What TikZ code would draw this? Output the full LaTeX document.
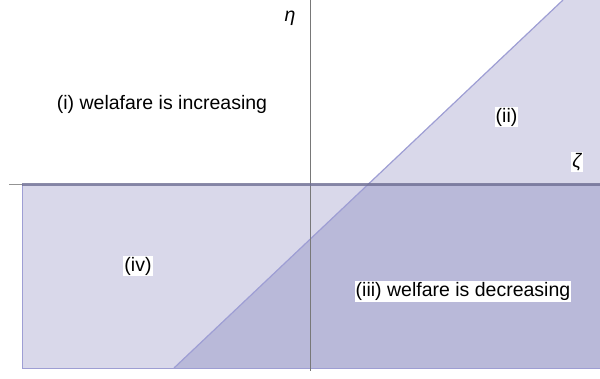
\documentclass[tikz,border=0pt]{standalone}
\usepackage{fontspec}
\setmainfont{Liberation Sans}
\usetikzlibrary{calc}
\definecolor{lightreg}{RGB}{217,216,234}
\definecolor{darkreg}{RGB}{185,185,217}
\definecolor{bordline}{RGB}{158,158,212}
\definecolor{axisgray}{RGB}{120,120,120}

\begin{document}
\begin{tikzpicture}[x=1pt, y=-1pt, font=\fontsize{19.5}{23}\selectfont,
  lbl/.style={fill=white, inner sep=1pt}]
  \useasboundingbox (0,0) rectangle (600,379);
  \coordinate (O) at (310,184);
  \coordinate (P) at (174,368);
  \coordinate (Q) at (563,0);
  \coordinate (X) at ($(P)!0.5!(Q)$);
  % regions
  \fill[lightreg] (22,184) rectangle (600,368);
  \draw[bordline] (600,368) -- (22,368) -- (22,184);
  \fill[lightreg] (X) -- (Q) -- (600,0) -- (600,184) -- cycle;
  \fill[darkreg] (P) -- (X) -- (600,184) -- (600,368) -- cycle;
  \draw[bordline, line width=1.2pt] (P) -- (Q);
  % axes
  \draw[axisgray, line width=0.9pt] (310,0) -- (310,371);
  \draw[axisgray!80!white, line width=1.8pt] (9,184.5) -- (22,184.5);
  \draw[bordline!70!black, line width=2.2pt, opacity=0.8] (22,184.5) -- (600,184.5);
  % labels
  \node (eta) at (290,18) {\itshape η};
  \node[lbl] (zeta) at (577,162) {\itshape ζ};
  \node (r1) at (162,104) {(i) welafare is increasing};
  \node[lbl] (r2) at (506.5,117) {(ii)};
  \node[lbl] (r3) at (463,291.5) {(iii) welfare is decreasing};
  \node[lbl] (r4) at (138,266) {(iv)};
\end{tikzpicture}
\end{document}
